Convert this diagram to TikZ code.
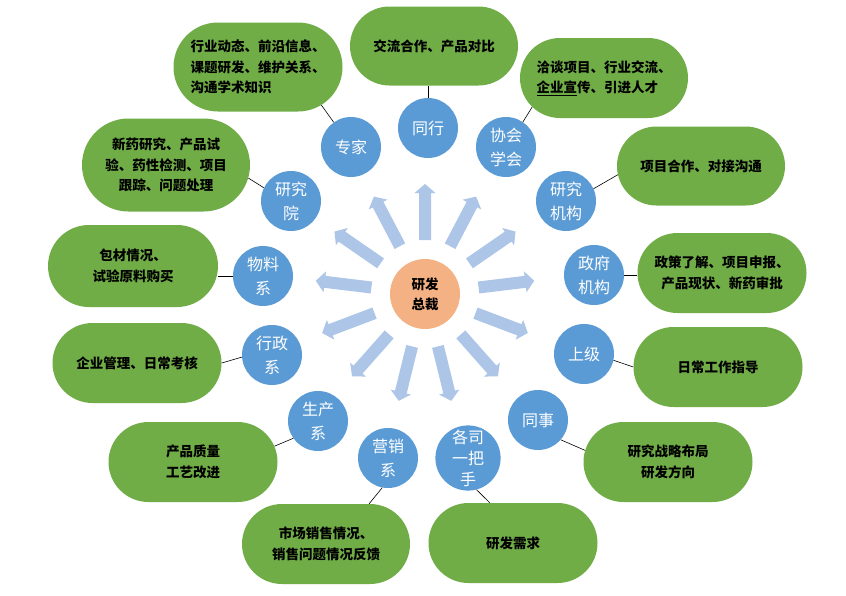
\documentclass[tikz,border=0pt]{standalone}
\usepackage{fontspec}
\setmainfont{Noto Sans CJK SC}
\usetikzlibrary{shapes.misc}
\definecolor{bluec}{HTML}{5B9BD5}
\definecolor{greenc}{HTML}{70AD47}
\definecolor{orangec}{HTML}{F4B183}
\definecolor{arrowc}{HTML}{ADC6E8}
\tikzset{
  bub/.style={circle, fill=bluec, minimum size=60pt, inner sep=0pt, text=white,
    font=\fontsize{16}{24}\selectfont, align=center},
  hub/.style={circle, fill=orangec, minimum size=70pt, inner sep=0pt, text=black,
    font=\bfseries\fontsize{13.5}{20}\selectfont, align=center},
  gbox/.style={rounded rectangle, fill=greenc, minimum width=168pt, minimum height=80pt,
    inner sep=0pt, text=black, font=\bfseries\fontsize{13.5}{20.5}\selectfont, align=center},
  link/.style={draw=black, line width=0.6pt},
  spoke/.style={fill=arrowc}
}
\begin{document}
\begin{tikzpicture}[x=1pt,y=-1pt]
\useasboundingbox (0,0) rectangle (846,595);
\fill[white] (0,0) rectangle (846,595);
\coordinate (O) at (425,294);
\foreach \k in {0,...,12}{
  \pgfmathsetmacro\ang{90-\k*360/13}
  \fill[spoke, shift={(O)}, rotate=\ang] (54,-6) -- (101,-6) -- (101,-10.5) -- (110,0) -- (101,10.5) -- (101,6) -- (54,6) -- cycle;
}
\node[hub] (C) at (O) {研发\\总裁};
% blue circles
\node[bub] (tonghang) at (428,128) {同行};
\node[bub] (zhuanjia) at (351,147) {专家};
\node[bub] (xiehui) at (506,147) {协会\\学会};
\node[bub] (yjjg) at (566,201) {研究\\机构};
\node[bub] (zhengfu) at (594,275) {政府\\机构};
\node[bub] (shangji) at (584,354) {上级};
\node[bub] (tongshi) at (538,420) {同事};
\node[bub, font=\fontsize{16}{21}\selectfont] (gesi) at (468,458) {各司\\一把\\手};
\node[bub] (yingxiao) at (388,458) {营销\\系};
\node[bub] (shengchan) at (318,421) {生产\\系};
\node[bub] (xingzheng) at (272,355) {行政\\系};
\node[bub] (wuliao) at (263,276) {物料\\系};
\node[bub] (yjy) at (291,201) {研究\\院};
% green boxes
\node[gbox, minimum height=79pt] (jiaoliu) at (434,46) {交流合作、产品对比};
\node[gbox, minimum width=169pt, minimum height=89pt, align=left] (hangye) at (258,67) {行业动态、前沿信息、\\课题研发、维护关系、\\沟通学术知识};
\node[gbox, align=left] (qiatan) at (604,78) {洽谈项目、行业交流、\\\underline{企业宣}传、引进人才};
\node[gbox, minimum height=79pt] (xmhz) at (701,166) {项目合作、对接沟通};
\node[gbox, minimum height=93pt] (xinyao) at (166,165) {新药研究、产品试\\验、药性检测、项目\\跟踪、问题处理};
\node[gbox, minimum width=170pt, minimum height=82pt] (baocai) at (133,266) {包材情况、\\试验原料购买};
\node[gbox, minimum width=169pt] (qiye) at (137,363) {企业管理、日常考核};
\node[gbox, minimum width=169pt] (chanpin) at (193,462) {产品质量\\工艺改进};
\node[gbox] (shichang) at (326,544) {市场销售情况、\\销售问题情况反馈};
\node[gbox, minimum width=169pt] (xuqiu) at (513,543) {研发需求};
\node[gbox, minimum width=169pt] (zhanlue) at (668,462) {研究战略布局\\研发方向};
\node[gbox, minimum width=169pt] (richang) at (718,367) {日常工作指导};
\node[gbox, minimum width=169pt] (zhengce) at (722,273) {政策了解、项目申报、\\产品现状、新药审批};
% connectors
\draw[link] (tonghang.north) -- (tonghang.north |- jiaoliu.south);
\draw[link] (zhuanjia.125) -- (hangye.-31);
\draw[link] (xiehui.56) -- (qiatan.202);
\draw[link] (yjjg.24) -- (xmhz.186);
\draw[link] (zhengfu.east) -- (zhengfu.east -| zhengce.west);
\draw[link] (shangji.-12) -- (richang.west);
\draw[link] (tongshi.-41) -- (zhanlue.172);
\draw[link] (gesi.-75) -- (xuqiu.120);
\draw[link] (yingxiao.-101) -- (shichang.43);
\draw[link] (shengchan.215) -- (chanpin.11);
\draw[link] (xingzheng.184) -- (qiye.east);
\draw[link] (wuliao.west) -- (wuliao.west -| baocai.east);
\draw[link] (yjy.154) -- (xinyao.-9);
\end{tikzpicture}
\end{document}
